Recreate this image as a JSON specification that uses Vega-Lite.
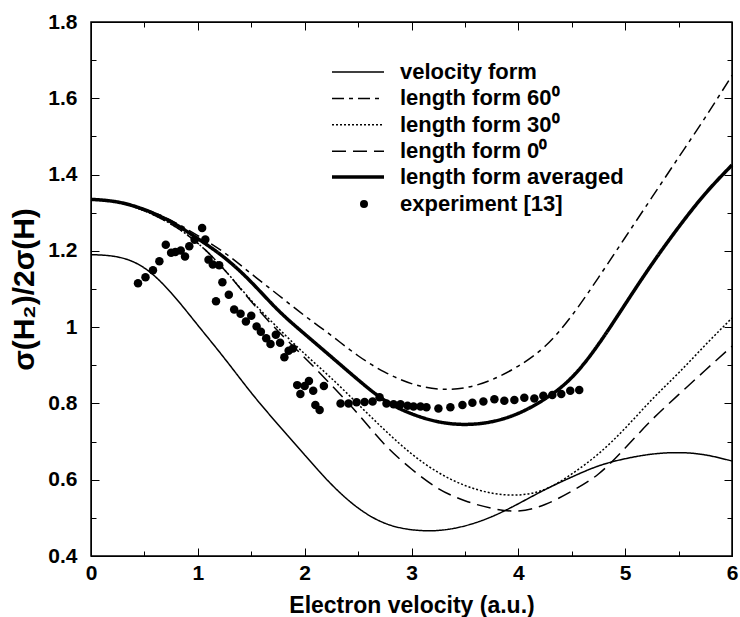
{
  "$schema": "https://vega.github.io/schema/vega-lite/v6.json",
  "width": 641,
  "height": 534,
  "autosize": {"type": "none"},
  "padding": {"left": 91, "top": 22, "right": 8, "bottom": 61},
  "background": "white",
  "config": {
    "view": {"stroke": "black", "strokeWidth": 1.5},
    "axis": {
      "grid": false,
      "domainColor": "black",
      "tickColor": "black",
      "labelFlush": false,
      "labelFont": "Liberation Sans",
      "labelFontWeight": "bold",
      "labelFontSize": 21,
      "labelColor": "black",
      "titleFont": "Liberation Sans",
      "titleFontWeight": "bold",
      "titleFontSize": 23,
      "titleColor": "black"
    },
    "legend": {
      "orient": "none",
      "title": null,
      "padding": 0,
      "labelFont": "Liberation Sans",
      "labelFontSize": 22,
      "labelFontWeight": "bold",
      "labelColor": "black",
      "labelLimit": 400,
      "rowPadding": 4.4
    }
  },
  "datasets": {
    "curves": [
      {"series": "velocity form", "x": 0, "y": 1.190},
      {"series": "velocity form", "x": 0.25, "y": 1.184},
      {"series": "velocity form", "x": 0.5, "y": 1.155},
      {"series": "velocity form", "x": 0.75, "y": 1.090},
      {"series": "velocity form", "x": 1, "y": 1.005},
      {"series": "velocity form", "x": 1.25, "y": 0.918},
      {"series": "velocity form", "x": 1.5, "y": 0.828},
      {"series": "velocity form", "x": 1.75, "y": 0.745},
      {"series": "velocity form", "x": 2, "y": 0.665},
      {"series": "velocity form", "x": 2.25, "y": 0.588},
      {"series": "velocity form", "x": 2.5, "y": 0.526},
      {"series": "velocity form", "x": 2.75, "y": 0.486},
      {"series": "velocity form", "x": 3, "y": 0.469},
      {"series": "velocity form", "x": 3.25, "y": 0.467},
      {"series": "velocity form", "x": 3.5, "y": 0.479},
      {"series": "velocity form", "x": 3.75, "y": 0.503},
      {"series": "velocity form", "x": 4, "y": 0.537},
      {"series": "velocity form", "x": 4.25, "y": 0.574},
      {"series": "velocity form", "x": 4.5, "y": 0.607},
      {"series": "velocity form", "x": 4.75, "y": 0.636},
      {"series": "velocity form", "x": 5, "y": 0.655},
      {"series": "velocity form", "x": 5.25, "y": 0.667},
      {"series": "velocity form", "x": 5.5, "y": 0.671},
      {"series": "velocity form", "x": 5.75, "y": 0.665},
      {"series": "velocity form", "x": 6, "y": 0.649},
      {"series": "length form 60⁰", "x": 0, "y": 1.335},
      {"series": "length form 60⁰", "x": 0.25, "y": 1.329},
      {"series": "length form 60⁰", "x": 0.5, "y": 1.310},
      {"series": "length form 60⁰", "x": 0.75, "y": 1.280},
      {"series": "length form 60⁰", "x": 1, "y": 1.240},
      {"series": "length form 60⁰", "x": 1.25, "y": 1.195},
      {"series": "length form 60⁰", "x": 1.5, "y": 1.140},
      {"series": "length form 60⁰", "x": 1.75, "y": 1.085},
      {"series": "length form 60⁰", "x": 2, "y": 1.030},
      {"series": "length form 60⁰", "x": 2.25, "y": 0.978},
      {"series": "length form 60⁰", "x": 2.5, "y": 0.925},
      {"series": "length form 60⁰", "x": 2.75, "y": 0.882},
      {"series": "length form 60⁰", "x": 3, "y": 0.852},
      {"series": "length form 60⁰", "x": 3.25, "y": 0.838},
      {"series": "length form 60⁰", "x": 3.5, "y": 0.841},
      {"series": "length form 60⁰", "x": 3.75, "y": 0.862},
      {"series": "length form 60⁰", "x": 4, "y": 0.898},
      {"series": "length form 60⁰", "x": 4.25, "y": 0.950},
      {"series": "length form 60⁰", "x": 4.5, "y": 1.030},
      {"series": "length form 60⁰", "x": 4.75, "y": 1.130},
      {"series": "length form 60⁰", "x": 5, "y": 1.235},
      {"series": "length form 60⁰", "x": 5.25, "y": 1.340},
      {"series": "length form 60⁰", "x": 5.5, "y": 1.445},
      {"series": "length form 60⁰", "x": 5.75, "y": 1.550},
      {"series": "length form 60⁰", "x": 6, "y": 1.660},
      {"series": "length form 30⁰", "x": 0, "y": 1.335},
      {"series": "length form 30⁰", "x": 0.25, "y": 1.327},
      {"series": "length form 30⁰", "x": 0.5, "y": 1.305},
      {"series": "length form 30⁰", "x": 0.75, "y": 1.270},
      {"series": "length form 30⁰", "x": 1, "y": 1.220},
      {"series": "length form 30⁰", "x": 1.25, "y": 1.150},
      {"series": "length form 30⁰", "x": 1.5, "y": 1.070},
      {"series": "length form 30⁰", "x": 1.75, "y": 0.998},
      {"series": "length form 30⁰", "x": 2, "y": 0.930},
      {"series": "length form 30⁰", "x": 2.25, "y": 0.866},
      {"series": "length form 30⁰", "x": 2.5, "y": 0.798},
      {"series": "length form 30⁰", "x": 2.75, "y": 0.730},
      {"series": "length form 30⁰", "x": 3, "y": 0.668},
      {"series": "length form 30⁰", "x": 3.25, "y": 0.619},
      {"series": "length form 30⁰", "x": 3.5, "y": 0.585},
      {"series": "length form 30⁰", "x": 3.75, "y": 0.565},
      {"series": "length form 30⁰", "x": 4, "y": 0.560},
      {"series": "length form 30⁰", "x": 4.25, "y": 0.575},
      {"series": "length form 30⁰", "x": 4.5, "y": 0.615},
      {"series": "length form 30⁰", "x": 4.75, "y": 0.668},
      {"series": "length form 30⁰", "x": 5, "y": 0.735},
      {"series": "length form 30⁰", "x": 5.25, "y": 0.810},
      {"series": "length form 30⁰", "x": 5.5, "y": 0.880},
      {"series": "length form 30⁰", "x": 5.75, "y": 0.953},
      {"series": "length form 30⁰", "x": 6, "y": 1.024},
      {"series": "length form 0⁰", "x": 0, "y": 1.335},
      {"series": "length form 0⁰", "x": 0.25, "y": 1.327},
      {"series": "length form 0⁰", "x": 0.5, "y": 1.305},
      {"series": "length form 0⁰", "x": 0.75, "y": 1.270},
      {"series": "length form 0⁰", "x": 1, "y": 1.220},
      {"series": "length form 0⁰", "x": 1.25, "y": 1.150},
      {"series": "length form 0⁰", "x": 1.5, "y": 1.067},
      {"series": "length form 0⁰", "x": 1.75, "y": 0.990},
      {"series": "length form 0⁰", "x": 2, "y": 0.920},
      {"series": "length form 0⁰", "x": 2.25, "y": 0.848},
      {"series": "length form 0⁰", "x": 2.5, "y": 0.772},
      {"series": "length form 0⁰", "x": 2.75, "y": 0.692},
      {"series": "length form 0⁰", "x": 3, "y": 0.628},
      {"series": "length form 0⁰", "x": 3.25, "y": 0.577},
      {"series": "length form 0⁰", "x": 3.5, "y": 0.545},
      {"series": "length form 0⁰", "x": 3.75, "y": 0.525},
      {"series": "length form 0⁰", "x": 4, "y": 0.518},
      {"series": "length form 0⁰", "x": 4.25, "y": 0.535},
      {"series": "length form 0⁰", "x": 4.5, "y": 0.570},
      {"series": "length form 0⁰", "x": 4.75, "y": 0.615},
      {"series": "length form 0⁰", "x": 5, "y": 0.683},
      {"series": "length form 0⁰", "x": 5.25, "y": 0.757},
      {"series": "length form 0⁰", "x": 5.5, "y": 0.823},
      {"series": "length form 0⁰", "x": 5.75, "y": 0.887},
      {"series": "length form 0⁰", "x": 6, "y": 0.950},
      {"series": "length form averaged", "x": 0, "y": 1.335},
      {"series": "length form averaged", "x": 0.25, "y": 1.328},
      {"series": "length form averaged", "x": 0.5, "y": 1.308},
      {"series": "length form averaged", "x": 0.75, "y": 1.276},
      {"series": "length form averaged", "x": 1, "y": 1.232},
      {"series": "length form averaged", "x": 1.25, "y": 1.182},
      {"series": "length form averaged", "x": 1.5, "y": 1.118},
      {"series": "length form averaged", "x": 1.75, "y": 1.045},
      {"series": "length form averaged", "x": 2, "y": 0.982},
      {"series": "length form averaged", "x": 2.25, "y": 0.922},
      {"series": "length form averaged", "x": 2.5, "y": 0.862},
      {"series": "length form averaged", "x": 2.75, "y": 0.808},
      {"series": "length form averaged", "x": 3, "y": 0.773},
      {"series": "length form averaged", "x": 3.25, "y": 0.752},
      {"series": "length form averaged", "x": 3.5, "y": 0.745},
      {"series": "length form averaged", "x": 3.75, "y": 0.752},
      {"series": "length form averaged", "x": 4, "y": 0.774},
      {"series": "length form averaged", "x": 4.25, "y": 0.812},
      {"series": "length form averaged", "x": 4.5, "y": 0.868},
      {"series": "length form averaged", "x": 4.75, "y": 0.955},
      {"series": "length form averaged", "x": 5, "y": 1.060},
      {"series": "length form averaged", "x": 5.25, "y": 1.165},
      {"series": "length form averaged", "x": 5.5, "y": 1.262},
      {"series": "length form averaged", "x": 5.75, "y": 1.350},
      {"series": "length form averaged", "x": 6, "y": 1.425}
    ],
    "exp": [
      {"series": "experiment [13]", "x": 0.44, "y": 1.115},
      {"series": "experiment [13]", "x": 0.51, "y": 1.131},
      {"series": "experiment [13]", "x": 0.58, "y": 1.149},
      {"series": "experiment [13]", "x": 0.64, "y": 1.173},
      {"series": "experiment [13]", "x": 0.70, "y": 1.216},
      {"series": "experiment [13]", "x": 0.75, "y": 1.195},
      {"series": "experiment [13]", "x": 0.79, "y": 1.197},
      {"series": "experiment [13]", "x": 0.84, "y": 1.201},
      {"series": "experiment [13]", "x": 0.88, "y": 1.185},
      {"series": "experiment [13]", "x": 0.92, "y": 1.212},
      {"series": "experiment [13]", "x": 0.97, "y": 1.229},
      {"series": "experiment [13]", "x": 1.04, "y": 1.260},
      {"series": "experiment [13]", "x": 1.07, "y": 1.230},
      {"series": "experiment [13]", "x": 1.10, "y": 1.177},
      {"series": "experiment [13]", "x": 1.14, "y": 1.164},
      {"series": "experiment [13]", "x": 1.20, "y": 1.162},
      {"series": "experiment [13]", "x": 1.17, "y": 1.068},
      {"series": "experiment [13]", "x": 1.23, "y": 1.118},
      {"series": "experiment [13]", "x": 1.29, "y": 1.085},
      {"series": "experiment [13]", "x": 1.34, "y": 1.046},
      {"series": "experiment [13]", "x": 1.40, "y": 1.035},
      {"series": "experiment [13]", "x": 1.45, "y": 1.015},
      {"series": "experiment [13]", "x": 1.50, "y": 1.030},
      {"series": "experiment [13]", "x": 1.55, "y": 1.002},
      {"series": "experiment [13]", "x": 1.59, "y": 0.988},
      {"series": "experiment [13]", "x": 1.64, "y": 0.971},
      {"series": "experiment [13]", "x": 1.68, "y": 0.956},
      {"series": "experiment [13]", "x": 1.73, "y": 0.980},
      {"series": "experiment [13]", "x": 1.77, "y": 0.959},
      {"series": "experiment [13]", "x": 1.81, "y": 0.921},
      {"series": "experiment [13]", "x": 1.85, "y": 0.938},
      {"series": "experiment [13]", "x": 1.89, "y": 0.944},
      {"series": "experiment [13]", "x": 1.93, "y": 0.848},
      {"series": "experiment [13]", "x": 1.96, "y": 0.825},
      {"series": "experiment [13]", "x": 2.00, "y": 0.846},
      {"series": "experiment [13]", "x": 2.04, "y": 0.859},
      {"series": "experiment [13]", "x": 2.08, "y": 0.833},
      {"series": "experiment [13]", "x": 2.18, "y": 0.846},
      {"series": "experiment [13]", "x": 2.10, "y": 0.796},
      {"series": "experiment [13]", "x": 2.14, "y": 0.783},
      {"series": "experiment [13]", "x": 2.336, "y": 0.800},
      {"series": "experiment [13]", "x": 2.411, "y": 0.800},
      {"series": "experiment [13]", "x": 2.486, "y": 0.803},
      {"series": "experiment [13]", "x": 2.561, "y": 0.804},
      {"series": "experiment [13]", "x": 2.636, "y": 0.805},
      {"series": "experiment [13]", "x": 2.701, "y": 0.816},
      {"series": "experiment [13]", "x": 2.766, "y": 0.800},
      {"series": "experiment [13]", "x": 2.832, "y": 0.798},
      {"series": "experiment [13]", "x": 2.897, "y": 0.798},
      {"series": "experiment [13]", "x": 2.963, "y": 0.794},
      {"series": "experiment [13]", "x": 3.019, "y": 0.792},
      {"series": "experiment [13]", "x": 3.084, "y": 0.792},
      {"series": "experiment [13]", "x": 3.140, "y": 0.790},
      {"series": "experiment [13]", "x": 3.252, "y": 0.787},
      {"series": "experiment [13]", "x": 3.364, "y": 0.790},
      {"series": "experiment [13]", "x": 3.477, "y": 0.796},
      {"series": "experiment [13]", "x": 3.570, "y": 0.802},
      {"series": "experiment [13]", "x": 3.673, "y": 0.805},
      {"series": "experiment [13]", "x": 3.776, "y": 0.811},
      {"series": "experiment [13]", "x": 3.869, "y": 0.807},
      {"series": "experiment [13]", "x": 3.963, "y": 0.809},
      {"series": "experiment [13]", "x": 4.056, "y": 0.815},
      {"series": "experiment [13]", "x": 4.150, "y": 0.813},
      {"series": "experiment [13]", "x": 4.234, "y": 0.820},
      {"series": "experiment [13]", "x": 4.318, "y": 0.822},
      {"series": "experiment [13]", "x": 4.402, "y": 0.825},
      {"series": "experiment [13]", "x": 4.486, "y": 0.833},
      {"series": "experiment [13]", "x": 4.570, "y": 0.835}
    ]
  },
  "resolve": {
    "scale": {"strokeDash": "independent"},
    "axis": {"x": "independent", "y": "independent"}
  },
  "layer": [
    {
      "data": {"name": "curves"},
      "transform": [{"filter": "datum.series === 'velocity form'"}],
      "mark": {"type": "line", "color": "black", "strokeWidth": 1.5, "interpolate": "natural"},
      "encoding": {
        "x": {
          "field": "x", "type": "quantitative",
          "scale": {"domain": [0, 6], "nice": false, "zero": false},
          "axis": {
            "orient": "bottom",
            "title": "Electron velocity (a.u.)",
            "values": [0, 1, 2, 3, 4, 5, 6],
            "format": "d",
            "tickSize": -8,
            "labelPadding": 14,
            "titlePadding": 11
          }
        },
        "y": {
          "field": "y", "type": "quantitative",
          "scale": {"domain": [0.4, 1.8], "nice": false, "zero": false},
          "axis": {
            "orient": "left",
            "title": "σ(H₂)/2σ(H)",
            "titleFontSize": 30,
            "values": [0.4, 0.6, 0.8, 1, 1.2, 1.4, 1.6, 1.8],
            "labelExpr": "datum.value === 1 ? '1' : format(datum.value, '.1f')",
            "tickSize": -8,
            "labelPadding": 22,
            "titlePadding": 8
          }
        },
        "strokeDash": {
          "field": "series", "type": "nominal",
          "scale": {"domain": ["velocity form"], "range": [[1, 0]]},
          "legend": {
            "legendX": 256, "legendY": 39,
            "symbolType": "M-4,0H4", "symbolSize": 169, "symbolStrokeWidth": 1.5, "symbolStrokeColor": "black",
            "labelOffset": 31
          }
        }
      }
    },
    {
      "data": {"name": "curves"},
      "transform": [{"filter": "datum.series !== 'velocity form' && datum.series !== 'length form averaged'"}],
      "mark": {"type": "line", "color": "black", "strokeWidth": 1.5, "interpolate": "natural"},
      "encoding": {
        "x": {
          "field": "x", "type": "quantitative",
          "axis": {
            "orient": "bottom", "title": null, "labels": false,
            "values": [0.5, 1.5, 2.5, 3.5, 4.5, 5.5],
            "tickSize": -5
          }
        },
        "y": {
          "field": "y", "type": "quantitative",
          "axis": {
            "orient": "left", "title": null, "labels": false,
            "values": [0.5, 0.7, 0.9, 1.1, 1.3, 1.5, 1.7],
            "tickSize": -5
          }
        },
        "strokeDash": {
          "field": "series", "type": "nominal",
          "scale": {
            "domain": ["length form 60⁰", "length form 30⁰", "length form 0⁰"],
            "range": [[12, 5, 4, 5], [2, 2], [14, 7]]
          },
          "legend": {
            "legendX": 256, "legendY": 65.4,
            "symbolType": "M-4,0H4", "symbolSize": 169, "symbolStrokeWidth": 1.5, "symbolStrokeColor": "black",
            "labelOffset": 31
          }
        }
      }
    },
    {
      "data": {"name": "curves"},
      "transform": [{"filter": "datum.series === 'length form averaged'"}],
      "mark": {"type": "line", "color": "black", "strokeWidth": 3.5, "interpolate": "natural"},
      "encoding": {
        "x": {
          "field": "x", "type": "quantitative",
          "axis": {
            "orient": "top", "title": null, "labels": false,
            "values": [0, 1, 2, 3, 4, 5, 6],
            "tickSize": -8
          }
        },
        "y": {
          "field": "y", "type": "quantitative",
          "axis": {
            "orient": "right", "title": null, "labels": false,
            "values": [0.4, 0.6, 0.8, 1, 1.2, 1.4, 1.6, 1.8],
            "tickSize": -8
          }
        },
        "strokeDash": {
          "field": "series", "type": "nominal",
          "scale": {"domain": ["length form averaged"], "range": [[1, 0]]},
          "legend": {
            "legendX": 256, "legendY": 144,
            "symbolType": "M-4,0H4", "symbolSize": 169, "symbolStrokeWidth": 3.5, "symbolStrokeColor": "black",
            "labelOffset": 31
          }
        }
      }
    },
    {
      "data": {"name": "exp"},
      "mark": {"type": "point", "filled": true, "color": "black", "size": 72, "opacity": 1},
      "encoding": {
        "x": {
          "field": "x", "type": "quantitative",
          "axis": {
            "orient": "top", "title": null, "labels": false,
            "values": [0.5, 1.5, 2.5, 3.5, 4.5, 5.5],
            "tickSize": -5
          }
        },
        "y": {
          "field": "y", "type": "quantitative",
          "axis": {
            "orient": "right", "title": null, "labels": false,
            "values": [0.5, 0.7, 0.9, 1.1, 1.3, 1.5, 1.7],
            "tickSize": -5
          }
        },
        "shape": {
          "field": "series", "type": "nominal",
          "scale": {"domain": ["experiment [13]"], "range": ["circle"]},
          "legend": {
            "legendX": 262, "legendY": 171,
            "symbolSize": 64, "symbolFillColor": "black", "symbolStrokeColor": "black", "symbolStrokeWidth": 0, "symbolOpacity": 1,
            "labelOffset": 25
          }
        }
      }
    }
  ]
}
